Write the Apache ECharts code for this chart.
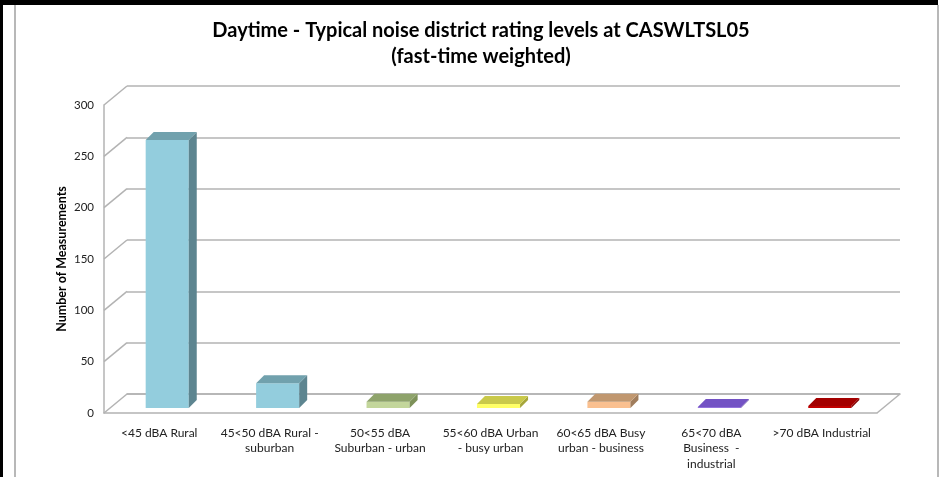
<!DOCTYPE html>
<html>
<head>
<meta charset="utf-8">
<script src="https://cdn.jsdelivr.net/npm/echarts@6/dist/echarts.min.js"></script>
<style>
  html, body { margin: 0; padding: 0; background: #fff; }
  #chart { width: 946px; height: 477px; }
</style>
</head>
<body>
<div id="chart"></div>
<script>
// data
const categories = [
  "<45 dBA Rural",
  "45<50 dBA Rural -\nsuburban",
  "50<55 dBA\nSuburban - urban",
  "55<60 dBA Urban\n- busy urban",
  "60<65 dBA Busy\nurban - business",
  "65<70 dBA\nBusiness  -\nindustrial",
  ">70 dBA Industrial"
];
const measurements = [261, 24, 6, 4, 6, 1, 2];
const yTicks = [0, 50, 100, 150, 200, 250, 300];

// bar colours: front, top, side
const barColors = [
  ["#93cddd", "#71a1ad", "#5d8590"],
  ["#93cddd", "#71a1ad", "#5d8590"],
  ["#c3d69b", "#8ea36b", "#7d9159"],
  ["#ffff66", "#c9c94a", "#a6a63b"],
  ["#fac090", "#c0976f", "#a07d5c"],
  ["#9373dc", "#7352c4", "#5c3fa6"],
  ["#c00000", "#a30000", "#860000"]
];

// fake 3d depth of the walls
const DX = 23, DY = 19;
const front = { left: 104, right: 69, top: 105, bottom: 64 };
const back = {
  left: front.left + DX, right: front.right - DX,
  top: front.top - DY, bottom: front.bottom + DY
};
const gridColor = "#b3b3b3";

function wallLines(params, api) {
  const cs = params.coordSys;
  const v = api.value(0);
  const y = api.coord([categories[0], v])[1];
  const kids = [{
    type: "line",
    shape: { x1: cs.x, y1: y, x2: cs.x + DX, y2: y - DY },
    style: { stroke: gridColor, lineWidth: 1.5 }
  }];
  if (v === 0) {
    kids.push({
      type: "line",
      shape: { x1: cs.x + cs.width, y1: y, x2: cs.x + cs.width + DX, y2: y - DY },
      style: { stroke: gridColor, lineWidth: 1.5 }
    });
  }
  return { type: "group", children: kids };
}

function bar3d(params, api) {
  const i = api.value(0);
  const top = api.coord([i, api.value(1)]);
  const base = api.coord([i, 0]);
  const w = api.size([1, 0])[0] * 0.39;
  const ox = 8, oy = -5;   // bar sits a bit behind the front plane
  const dx = 8, dy = 8;    // bar depth
  const x0 = top[0] + ox - w / 2, x1 = x0 + w;
  const yb = base[1] + oy, yt = top[1] + oy;
  const c = barColors[i];
  return {
    type: "group",
    children: [
      { type: "rect", shape: { x: x0, y: yt, width: w, height: yb - yt }, style: { fill: c[0] } },
      { type: "polygon", shape: { points: [[x1, yt], [x1 + dx, yt - dy], [x1 + dx, yb - dy], [x1, yb]] }, style: { fill: c[2] } },
      { type: "polygon", shape: { points: [[x0, yt], [x0 + dx, yt - dy], [x1 + dx, yt - dy], [x1, yt]] }, style: { fill: c[1] } }
    ]
  };
}

const chart = echarts.init(document.getElementById("chart"));
const font = "Lato";

chart.setOption({
  animation: false,
  title: {
    text: "Daytime - Typical noise district rating levels at CASWLTSL05\n(fast-time weighted)",
    left: 476, textAlign: "center", top: 13,
    textStyle: { fontFamily: font, fontSize: 20, fontWeight: "bold", color: "#000", lineHeight: 26 }
  },
  graphic: [
    { type: "rect", shape: { x: 0, y: 0, width: 938, height: 5 }, style: { fill: "#000" } },
    { type: "rect", shape: { x: 0, y: 0, width: 3, height: 477 }, style: { fill: "#000" } },
    { type: "line", shape: { x1: 15, y1: 5, x2: 15, y2: 477 }, style: { stroke: "#a0a0a0", lineWidth: 1.5 } },
    { type: "line", shape: { x1: 938, y1: 5, x2: 938, y2: 477 }, style: { stroke: "#a0a0a0", lineWidth: 1.5 } }
  ],
  grid: [
    { left: back.left, right: back.right, top: back.top, bottom: back.bottom },
    { left: front.left, right: front.right, top: front.top, bottom: front.bottom }
  ],
  xAxis: [
    {
      gridIndex: 0, type: "category", data: categories,
      axisLine: { lineStyle: { color: gridColor, width: 1.5 } },
      axisTick: { show: false }, axisLabel: { show: false }
    },
    {
      gridIndex: 1, type: "category", data: categories,
      axisLine: { lineStyle: { color: gridColor, width: 1.5 } },
      axisTick: { show: false },
      axisLabel: {
        interval: 0, margin: 12, color: "#222", fontFamily: font, fontSize: 12, lineHeight: 15.5
      }
    }
  ],
  yAxis: [
    {
      gridIndex: 0, type: "value", min: 0, max: 300, interval: 50,
      axisLine: { show: false }, axisTick: { show: false }, axisLabel: { show: false },
      splitLine: { lineStyle: { color: gridColor, width: 1.5 } }
    },
    {
      gridIndex: 1, type: "value", min: 0, max: 300, interval: 50,
      name: "Number of Measurements", nameLocation: "middle", nameGap: 36, nameRotate: 90,
      nameMoveOverlap: false,
      nameTextStyle: { fontFamily: font, fontSize: 12.5, fontWeight: "bold", color: "#000" },
      axisLine: { show: true, lineStyle: { color: gridColor, width: 1.5 } },
      axisTick: { show: false }, splitLine: { show: false },
      axisLabel: { margin: 10, color: "#222", fontFamily: font, fontSize: 11.5 }
    }
  ],
  series: [
    {
      type: "custom", xAxisIndex: 1, yAxisIndex: 1,
      data: yTicks.map(v => [v]),
      renderItem: wallLines, silent: true, z: 1
    },
    {
      type: "custom", xAxisIndex: 1, yAxisIndex: 1,
      data: measurements.map((v, i) => [i, v]),
      encode: { x: 0, y: 1 },
      renderItem: bar3d, z: 5
    }
  ]
});
</script>
</body>
</html>
